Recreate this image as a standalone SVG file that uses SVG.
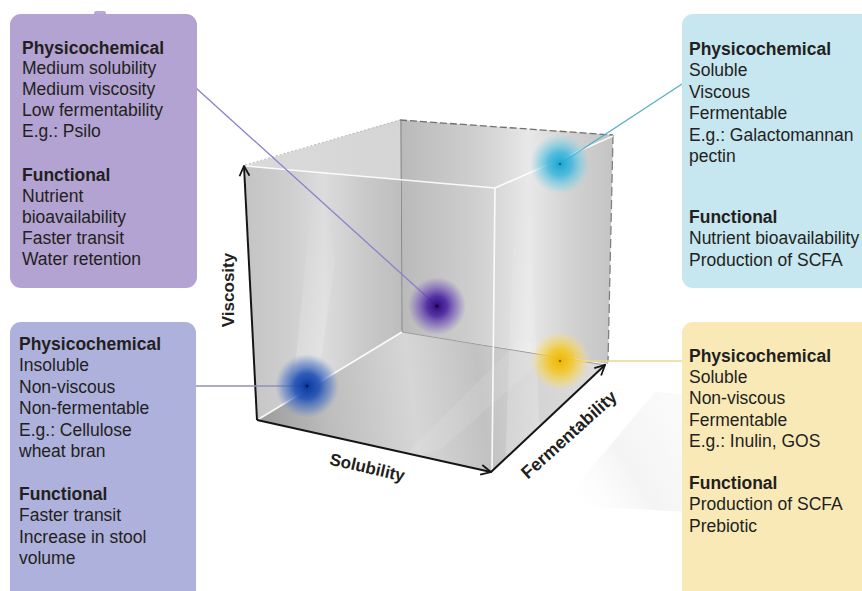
<svg xmlns="http://www.w3.org/2000/svg" width="862" height="591" viewBox="0 0 862 591">
<defs>
<style>
.t{font-family:"Liberation Sans",Arial,sans-serif;font-size:17.5px;fill:#231f20}
.b{font-weight:bold}
.ax{font-family:"Liberation Sans",Arial,sans-serif;font-size:17px;font-weight:bold;fill:#231f20}
.axis{stroke:#151515;stroke-width:2;fill:none;marker-end:url(#ah)}
.wl{stroke:#ffffff;stroke-width:1.6;fill:none;opacity:0.9}
.conn{fill:none;stroke-width:1.3}
</style>
<marker id="ah" viewBox="0 0 12 12" refX="11" refY="6" markerWidth="12" markerHeight="12" orient="auto" markerUnits="userSpaceOnUse">
<path d="M1,1 L11,6 L1,11" fill="none" stroke="#151515" stroke-width="1.8"/>
</marker>
<linearGradient id="gLeft" gradientUnits="userSpaceOnUse" x1="245" y1="0" x2="402" y2="0">
<stop offset="0" stop-color="#c4c4c4"/>
<stop offset="0.3" stop-color="#cfcfcf"/>
<stop offset="0.5" stop-color="#dcdcdc"/>
<stop offset="0.75" stop-color="#cacaca"/>
<stop offset="1" stop-color="#bdbdbd"/>
</linearGradient>
<linearGradient id="gTop" gradientUnits="userSpaceOnUse" x1="245" y1="160" x2="613" y2="150">
<stop offset="0" stop-color="#dadada"/>
<stop offset="0.4" stop-color="#d6d6d6"/>
<stop offset="0.7" stop-color="#e4e4e4"/>
<stop offset="1" stop-color="#d0d0d0"/>
</linearGradient>
<linearGradient id="gBack" gradientUnits="userSpaceOnUse" x1="402" y1="0" x2="613" y2="0">
<stop offset="0" stop-color="#bababa"/>
<stop offset="0.35" stop-color="#cfcfcf"/>
<stop offset="0.45" stop-color="#d8d8d8"/>
<stop offset="0.6" stop-color="#e8e8e8"/>
<stop offset="0.8" stop-color="#d2d2d2"/>
<stop offset="1" stop-color="#c4c4c4"/>
</linearGradient>
<linearGradient id="gFloor" gradientUnits="userSpaceOnUse" x1="260" y1="420" x2="600" y2="380">
<stop offset="0" stop-color="#9c9c9c"/>
<stop offset="0.2" stop-color="#bdbdbd"/>
<stop offset="0.45" stop-color="#d6d6d6"/>
<stop offset="0.65" stop-color="#c2c2c2"/>
<stop offset="0.8" stop-color="#d4d4d4"/>
<stop offset="1" stop-color="#dcdcdc"/>
</linearGradient>
<linearGradient id="gRefl" gradientUnits="userSpaceOnUse" x1="560" y1="500" x2="690" y2="420">
<stop offset="0" stop-color="#ffffff" stop-opacity="0"/>
<stop offset="0.5" stop-color="#ebebeb" stop-opacity="0.55"/>
<stop offset="1" stop-color="#f2f2f2" stop-opacity="0.35"/>
</linearGradient>
<linearGradient id="gStreak" x1="0" y1="1" x2="0" y2="0">
<stop offset="0" stop-color="#ffffff" stop-opacity="0.25"/>
<stop offset="1" stop-color="#ffffff" stop-opacity="0"/>
</linearGradient>
<radialGradient id="dPurple">
<stop offset="0" stop-color="#2e0a78"/>
<stop offset="0.35" stop-color="#4a23a0" stop-opacity="0.9"/>
<stop offset="0.7" stop-color="#6a4ab8" stop-opacity="0.5"/>
<stop offset="1" stop-color="#7a5cc0" stop-opacity="0"/>
</radialGradient>
<radialGradient id="dCyan">
<stop offset="0" stop-color="#18a6d2"/>
<stop offset="0.4" stop-color="#3ab6dc" stop-opacity="0.85"/>
<stop offset="0.75" stop-color="#6ccbe6" stop-opacity="0.45"/>
<stop offset="1" stop-color="#8ad6ee" stop-opacity="0"/>
</radialGradient>
<radialGradient id="dBlue">
<stop offset="0" stop-color="#08379e"/>
<stop offset="0.4" stop-color="#1d4fb4" stop-opacity="0.9"/>
<stop offset="0.75" stop-color="#4a72c4" stop-opacity="0.5"/>
<stop offset="1" stop-color="#6a8ad0" stop-opacity="0"/>
</radialGradient>
<radialGradient id="dYellow">
<stop offset="0" stop-color="#eeb800"/>
<stop offset="0.4" stop-color="#f3c72a" stop-opacity="0.9"/>
<stop offset="0.75" stop-color="#f6d760" stop-opacity="0.5"/>
<stop offset="1" stop-color="#f8e08a" stop-opacity="0"/>
</radialGradient>
</defs>
<rect width="862" height="591" fill="#ffffff"/>
<polygon points="560,505 655,392 690,394 690,512" fill="url(#gRefl)"/>
<g id="cube">
<polygon points="245,166 400,120 402,332 257,420" fill="url(#gLeft)"/>
<polygon points="245,166 400,120 613,135 495,188" fill="url(#gTop)" opacity="0.95"/>
<polygon points="400,120 613,135 608,364 402,332" fill="url(#gBack)"/>
<polygon points="257,420 402,332 606,365 491,472" fill="url(#gFloor)"/>
<polygon points="292,396 318,381 335,260 325,190 312,200" fill="url(#gStreak)"/>
<polygon points="505,470 540,440 530,200 515,195" fill="url(#gStreak)"/>
<polygon points="400,460 440,450 560,345 520,340" fill="#ffffff" opacity="0.1"/>
<line x1="400" y1="120" x2="613" y2="135" stroke="#707070" stroke-width="1.3" stroke-dasharray="7,3"/>
<line x1="245" y1="165" x2="400" y2="120" stroke="#b5b5b5" stroke-width="1" stroke-dasharray="2,2"/>
<line x1="613" y1="135" x2="608" y2="362" stroke="#808080" stroke-width="1.3" stroke-dasharray="9,4"/>
<line x1="401" y1="120" x2="402" y2="332" stroke="#8a8a8a" stroke-width="1"/>
<line x1="402" y1="332" x2="605" y2="365" stroke="#9a9a9a" stroke-width="1"/>
<line class="wl" x1="246" y1="166" x2="495" y2="188"/>
<line class="wl" x1="495" y1="188" x2="613" y2="136"/>
<line class="wl" x1="495" y1="188" x2="492" y2="470"/>
<line class="wl" x1="259" y1="419" x2="402" y2="332"/>
<path class="axis" d="M257,420 L244,166"/>
<path class="axis" d="M257,420 L491,472"/>
<path class="axis" d="M491,472 L605,365"/>
<text class="ax" transform="translate(234,290) rotate(-90)" text-anchor="middle">Viscosity</text>
<text class="ax" transform="translate(366,473) rotate(13)" text-anchor="middle">Solubility</text>
<text class="ax" transform="translate(573,439) rotate(-42)" text-anchor="middle" style="font-size:17.8px">Fermentability</text>
</g>
<g id="connectors">
<line class="conn" x1="196" y1="88" x2="437" y2="306" stroke="#8b80cc"/>
<line class="conn" x1="682" y1="84" x2="560" y2="164" stroke="#4fafcc"/>
<line class="conn" x1="196" y1="386" x2="307" y2="386" stroke="#8e90b8"/>
<line class="conn" x1="560" y1="361" x2="682" y2="361" stroke="#efd58e"/>
</g>
<g id="dot-purple"><circle cx="437" cy="306" r="29" fill="url(#dPurple)"/><circle cx="437" cy="306" r="1.5" fill="#10052a"/></g>
<g id="dot-cyan"><circle cx="560" cy="164" r="30" fill="url(#dCyan)"/><circle cx="560" cy="164" r="1.3" fill="#0a6a8a"/></g>
<g id="dot-blue"><circle cx="307" cy="386" r="32" fill="url(#dBlue)"/><circle cx="307" cy="386" r="1.5" fill="#051a50"/></g>
<g id="dot-yellow"><circle cx="560" cy="361" r="30" fill="url(#dYellow)"/><circle cx="560" cy="361" r="1.3" fill="#8a6a00"/></g>
<g id="box-medium">
<rect x="94" y="11" width="12" height="6" rx="2" fill="#b8aad6"/>
<rect x="10" y="14" width="187" height="274" rx="11" fill="#b2a3d2"/>
<text class="t b" x="22" y="53.5">Physicochemical</text>
<text class="t" x="22" y="74.4">Medium solubility</text>
<text class="t" x="22" y="95.3">Medium viscosity</text>
<text class="t" x="22" y="116.2">Low fermentability</text>
<text class="t" x="22" y="137.1">E.g.: Psilo</text>
<text class="t b" x="22" y="181">Functional</text>
<text class="t" x="22" y="201.9">Nutrient</text>
<text class="t" x="22" y="222.8">bioavailability</text>
<text class="t" x="22" y="243.7">Faster transit</text>
<text class="t" x="22" y="264.6">Water retention</text>
</g>
<g id="box-insoluble">
<rect x="10" y="322" width="186" height="290" rx="11" fill="#aeb1dc"/>
<text class="t b" x="19" y="350">Physicochemical</text>
<text class="t" x="19" y="371.4">Insoluble</text>
<text class="t" x="19" y="392.8">Non-viscous</text>
<text class="t" x="19" y="414.2">Non-fermentable</text>
<text class="t" x="19" y="435.6">E.g.: Cellulose</text>
<text class="t" x="19" y="457">wheat bran</text>
<text class="t b" x="19" y="500">Functional</text>
<text class="t" x="19" y="521.4">Faster transit</text>
<text class="t" x="19" y="542.8">Increase in stool</text>
<text class="t" x="19" y="564.2">volume</text>
</g>
<g id="box-viscous">
<rect x="682" y="14" width="200" height="274" rx="11" fill="#c6e6f0"/>
<text class="t b" x="689" y="55">Physicochemical</text>
<text class="t" x="689" y="76.4">Soluble</text>
<text class="t" x="689" y="97.8">Viscous</text>
<text class="t" x="689" y="119.2">Fermentable</text>
<text class="t" x="689" y="140.6">E.g.: Galactomannan</text>
<text class="t" x="689" y="162">pectin</text>
<text class="t b" x="689" y="223">Functional</text>
<text class="t" x="689" y="244.4">Nutrient bioavailability</text>
<text class="t" x="689" y="265.8">Production of SCFA</text>
</g>
<g id="box-nonviscous">
<rect x="682" y="322" width="200" height="290" rx="11" fill="#f8e9b7"/>
<text class="t b" x="689" y="361.5">Physicochemical</text>
<text class="t" x="689" y="382.9">Soluble</text>
<text class="t" x="689" y="404.3">Non-viscous</text>
<text class="t" x="689" y="425.7">Fermentable</text>
<text class="t" x="689" y="447.1">E.g.: Inulin, GOS</text>
<text class="t b" x="689" y="489">Functional</text>
<text class="t" x="689" y="510.4">Production of SCFA</text>
<text class="t" x="689" y="531.8">Prebiotic</text>
</g>
</svg>
